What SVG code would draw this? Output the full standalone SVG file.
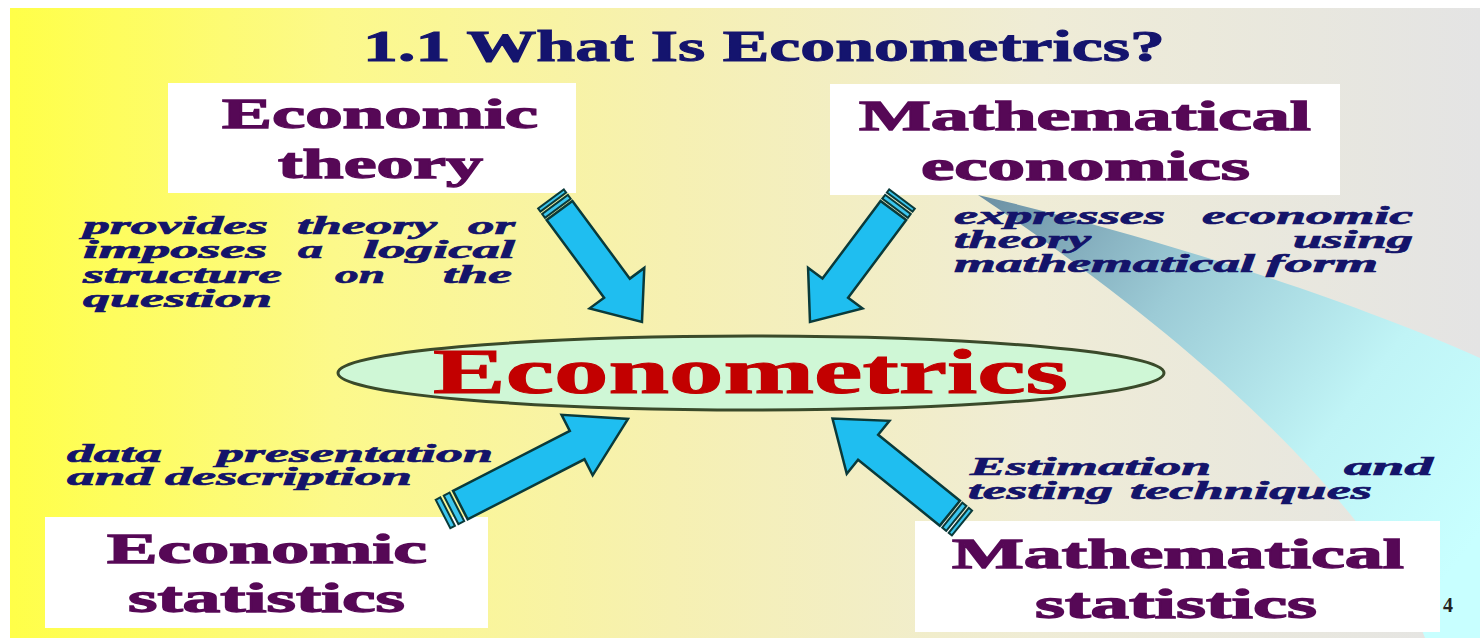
<svg xmlns="http://www.w3.org/2000/svg" width="1480" height="642" viewBox="0 0 1480 642">
<defs>
<style>
.lbl{font-family:"Liberation Serif","Times New Roman",serif;font-weight:bold;font-size:42px;fill:#560856;stroke:#560856;stroke-width:1.3px}
.it{font-family:"Liberation Serif","Times New Roman",serif;font-weight:bold;font-style:italic;font-size:26px;fill:#14146A;stroke:#14146A;stroke-width:0.7px}
.box{fill:#FFFFFF}
.arr{fill:#1FBEF0;stroke:#0A3A3A;stroke-width:2.5;stroke-linejoin:miter}
.bar{fill:#3CC6EE;stroke:#0A3A3A;stroke-width:2}
</style>
<linearGradient id="bg" x1="0" y1="0" x2="1" y2="0">
<stop offset="0" stop-color="#FFFF48"/>
<stop offset="0.22" stop-color="#FCF98A"/>
<stop offset="0.45" stop-color="#F6F0B2"/>
<stop offset="0.7" stop-color="#EFECD6"/>
<stop offset="1" stop-color="#E4E4E4"/>
</linearGradient>
<linearGradient id="sw" gradientUnits="userSpaceOnUse" x1="980" y1="195" x2="1460" y2="560">
<stop offset="0" stop-color="#6B8FA3"/>
<stop offset="0.35" stop-color="#9CCBD6"/>
<stop offset="0.7" stop-color="#C0F4F6"/>
<stop offset="1" stop-color="#C8FFFF"/>
</linearGradient>
<g id="arrow">
<path class="arr" vector-effect="non-scaling-stroke" d="M15,-16 L116,-16 L116,-34 L160,0 L116,34 L116,16 L15,16 Z"/>
<rect class="bar" vector-effect="non-scaling-stroke" x="0" y="-16" width="4" height="32"/>
<rect class="bar" vector-effect="non-scaling-stroke" x="7" y="-16" width="5" height="32"/>
</g>
</defs>
<rect x="0" y="0" width="1480" height="642" fill="#FFFFFF"/>
<rect x="10" y="8" width="1470" height="630" fill="url(#bg)"/>
<path d="M978,195 C1150,235 1350,300 1480,358 L1480,638 L1425,638 C1390,540 1260,385 978,195 Z" fill="url(#sw)"/>

<g id="title">
<text x="363" y="61" font-family="Liberation Serif, Times New Roman, serif" font-weight="bold" font-size="44" fill="#14146E" stroke="#14146E" stroke-width="1" textLength="802" lengthAdjust="spacingAndGlyphs">1.1 What Is Econometrics?</text>
</g>

<g id="node-economic-theory">
<rect class="box" x="168" y="83" width="408" height="110"/>
<text class="lbl" x="222" y="128" textLength="316" lengthAdjust="spacingAndGlyphs">Economic</text>
<text class="lbl" x="278" y="178" textLength="205" lengthAdjust="spacingAndGlyphs">theory</text>
</g>

<g id="node-mathematical-economics">
<rect class="box" x="830" y="84" width="510" height="111"/>
<text class="lbl" x="859" y="130" textLength="452" lengthAdjust="spacingAndGlyphs">Mathematical</text>
<text class="lbl" x="921" y="180" textLength="329" lengthAdjust="spacingAndGlyphs">economics</text>
</g>

<g id="node-economic-statistics">
<rect class="box" x="45" y="517" width="443" height="111"/>
<text class="lbl" x="107" y="563" textLength="320" lengthAdjust="spacingAndGlyphs">Economic</text>
<text class="lbl" x="128" y="612" textLength="277" lengthAdjust="spacingAndGlyphs">statistics</text>
</g>

<g id="node-mathematical-statistics">
<rect class="box" x="915" y="521" width="525" height="111"/>
<text class="lbl" x="952" y="568" textLength="452" lengthAdjust="spacingAndGlyphs">Mathematical</text>
<text class="lbl" x="1035" y="618" textLength="282" lengthAdjust="spacingAndGlyphs">statistics</text>
</g>

<g id="node-econometrics">
<ellipse cx="751" cy="373" rx="413" ry="37" fill="#CFF7D6" stroke="#3A4A2A" stroke-width="3"/>
<text x="433" y="393" font-family="Liberation Serif, Times New Roman, serif" font-weight="bold" font-size="64" fill="#C20000" stroke="#C20000" stroke-width="1" textLength="635" lengthAdjust="spacingAndGlyphs">Econometrics</text>
</g>

<g id="connectors">
<use href="#arrow" transform="translate(551,199) rotate(53.5) scale(0.956,1)"/>
<use href="#arrow" transform="translate(902,199) rotate(126.8) scale(0.96,1)"/>
<use href="#arrow" transform="translate(443,514) rotate(-27.2) scale(1.3,1)"/>
<use href="#arrow" transform="translate(962,523) rotate(-141.1) scale(1.04,1)"/>
</g>

<g id="labels">
<text class="it" x="83" y="234" textLength="185" lengthAdjust="spacingAndGlyphs">provides</text>
<text class="it" x="297" y="234" textLength="140" lengthAdjust="spacingAndGlyphs">theory</text>
<text class="it" x="468" y="234" textLength="47" lengthAdjust="spacingAndGlyphs">or</text>
<text class="it" x="83" y="258" textLength="184" lengthAdjust="spacingAndGlyphs">imposes</text>
<text class="it" x="298" y="258" textLength="25" lengthAdjust="spacingAndGlyphs">a</text>
<text class="it" x="363" y="258" textLength="152" lengthAdjust="spacingAndGlyphs">logical</text>
<text class="it" x="83" y="283" textLength="199" lengthAdjust="spacingAndGlyphs">structure</text>
<text class="it" x="335" y="283" textLength="50" lengthAdjust="spacingAndGlyphs">on</text>
<text class="it" x="443" y="283" textLength="69" lengthAdjust="spacingAndGlyphs">the</text>
<text class="it" x="83" y="307" textLength="189" lengthAdjust="spacingAndGlyphs">question</text>

<text class="it" x="954" y="224" textLength="211" lengthAdjust="spacingAndGlyphs">expresses</text>
<text class="it" x="1202" y="224" textLength="211" lengthAdjust="spacingAndGlyphs">economic</text>
<text class="it" x="954" y="248" textLength="137" lengthAdjust="spacingAndGlyphs">theory</text>
<text class="it" x="1293" y="248" textLength="120" lengthAdjust="spacingAndGlyphs">using</text>
<text class="it" x="954" y="272" textLength="301" lengthAdjust="spacingAndGlyphs">mathematical</text>
<text class="it" x="1266" y="272" textLength="112" lengthAdjust="spacingAndGlyphs">form</text>

<text class="it" x="67" y="462" textLength="95" lengthAdjust="spacingAndGlyphs">data</text>
<text class="it" x="217" y="462" textLength="276" lengthAdjust="spacingAndGlyphs">presentation</text>
<text class="it" x="67" y="485" textLength="86" lengthAdjust="spacingAndGlyphs">and</text>
<text class="it" x="165" y="485" textLength="247" lengthAdjust="spacingAndGlyphs">description</text>

<text class="it" x="970" y="475" textLength="241" lengthAdjust="spacingAndGlyphs">Estimation</text>
<text class="it" x="1344" y="475" textLength="89" lengthAdjust="spacingAndGlyphs">and</text>
<text class="it" x="968" y="499" textLength="145" lengthAdjust="spacingAndGlyphs">testing</text>
<text class="it" x="1130" y="499" textLength="242" lengthAdjust="spacingAndGlyphs">techniques</text>
</g>

<text x="1443" y="612" font-family="Liberation Serif, Times New Roman, serif" font-weight="bold" font-size="20" fill="#222222">4</text>
</svg>
